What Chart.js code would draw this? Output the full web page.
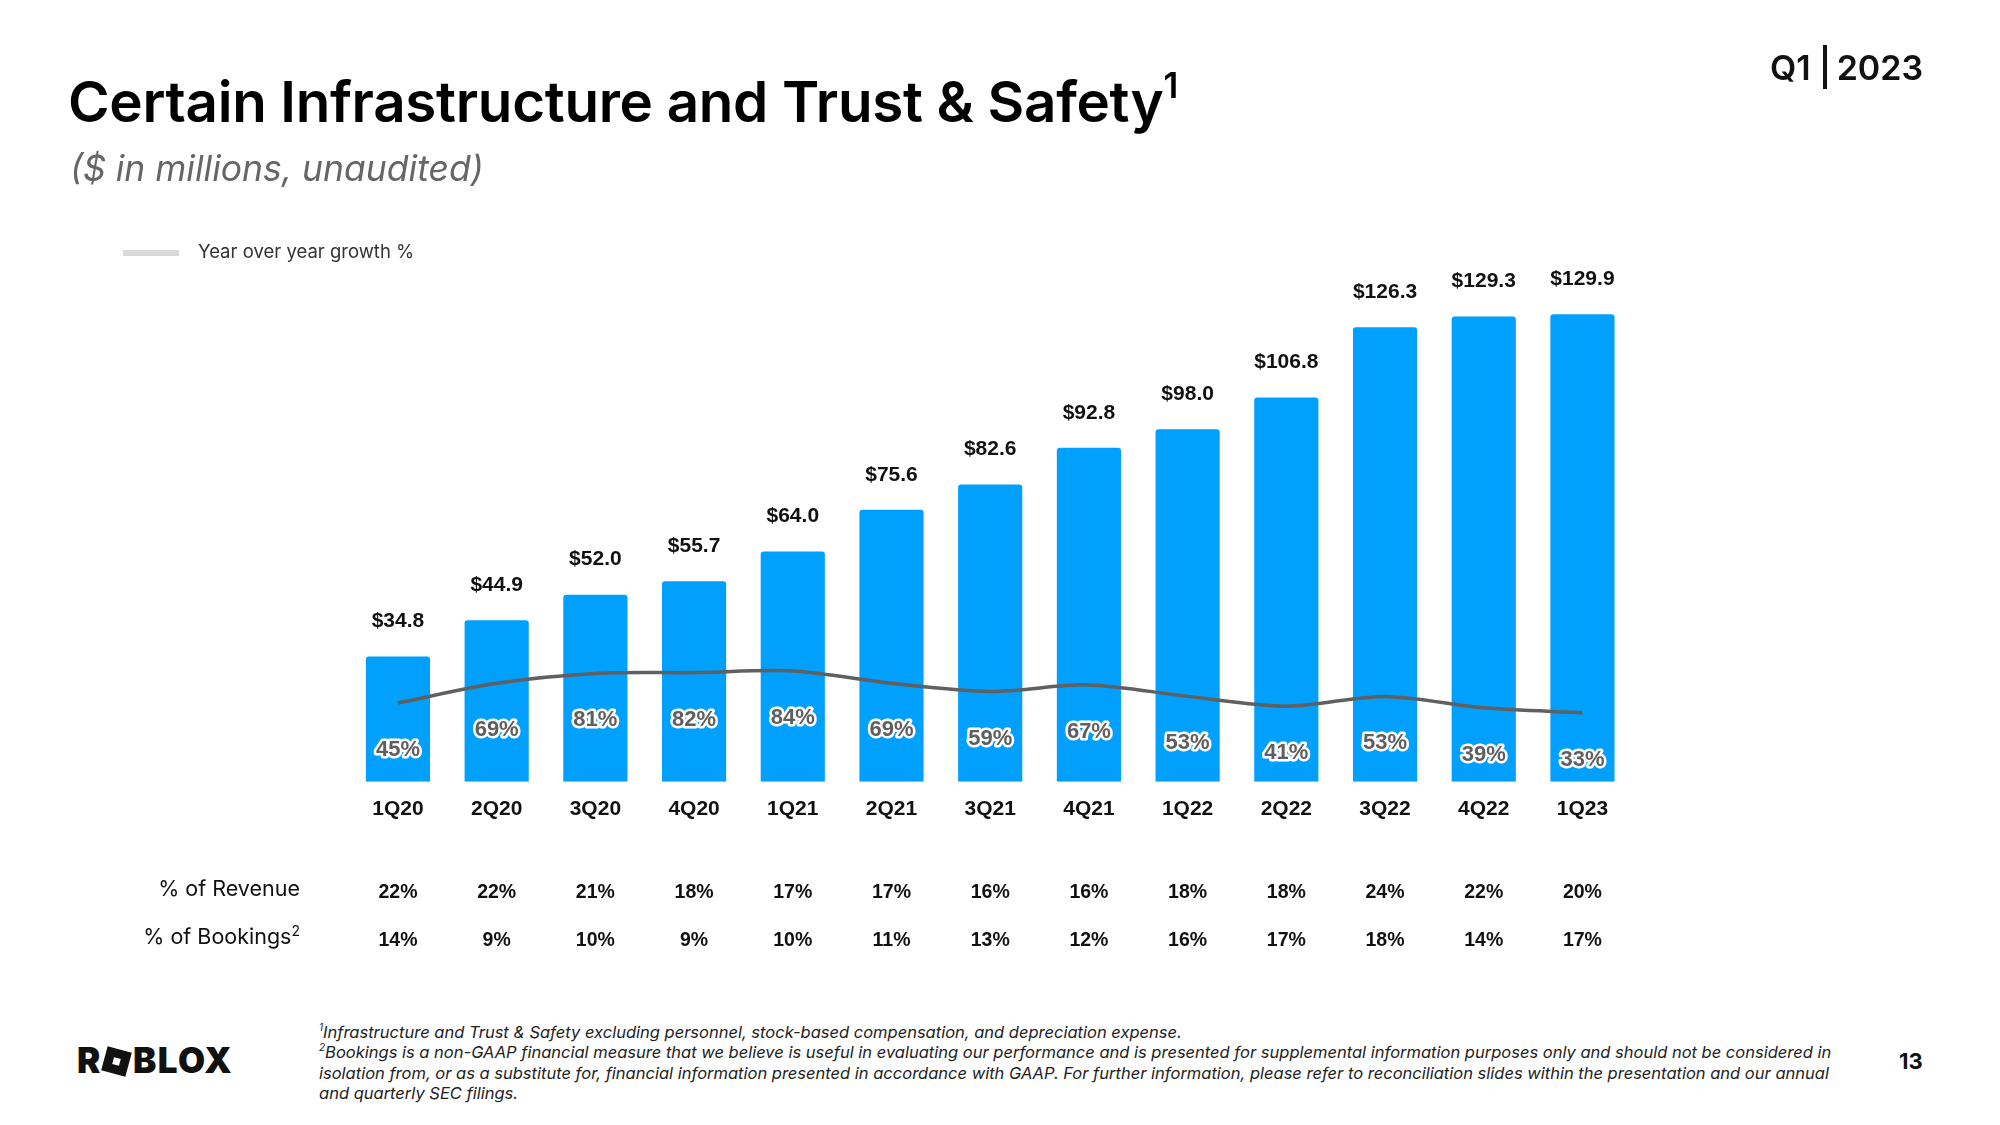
<!DOCTYPE html>
<html>
<head>
<meta charset="utf-8">
<script src="https://cdn.jsdelivr.net/npm/chart.js@4.4.1/dist/chart.umd.min.js"></script>
<style>
  html, body { margin: 0; padding: 0; background: #fff; }
  #page { position: relative; width: 2000px; height: 1125px; overflow: hidden; font-family: Inter, "Noto Sans", sans-serif; }
  #container { position: absolute; left: 0; top: 0; width: 2000px; height: 1000px; }
  .title { position: absolute; left: 68px; top: 67px; margin: 0; font-size: 56.5px; font-weight: 600; color: #000; letter-spacing: -0.3px; white-space: nowrap; }
  .title sup { font-size: 35px; position: relative; top: -4px; }
  .subtitle { position: absolute; left: 70px; top: 147px; font-size: 35.5px; font-style: italic; color: #666; white-space: nowrap; }
  .quarter { position: absolute; left: 1770px; top: 45px; font-size: 34px; font-weight: 600; color: #111; white-space: nowrap; }
  .quarter .sep { display: inline-block; width: 4px; height: 44px; background: #111; vertical-align: -9px; margin: 0 10px 0 12px; }
  .legend { position: absolute; left: 123px; top: 240px; height: 24px; white-space: nowrap; }
  .legend .swatch { position: absolute; left: 0; top: 10px; width: 56px; height: 6px; background: #d9d9d9; }
  .legend .text { position: absolute; left: 75px; top: 0; font-size: 18.5px; color: #333; }
  .rowlabel { position: absolute; right: 1700px; font-size: 21.5px; color: #111; white-space: nowrap; text-align: right; }
  .rowlabel sup { font-size: 14px; }
  .notes { position: absolute; left: 319px; top: 1022px; font-size: 16.5px; line-height: 20.4px; font-style: italic; color: #222; white-space: nowrap; }
  .notes sup { font-size: 10px; line-height: 0; vertical-align: baseline; position: relative; top: -7px; }
  .logo { position: absolute; left: 77px; top: 1039px; font-size: 35px; font-weight: 900; color: #111; letter-spacing: 1.5px; white-space: nowrap; }
  .logo .o { display: inline-block; width: 25px; height: 25px; background: #111; transform: rotate(15deg); position: relative; vertical-align: -1px; margin: 0 4px 0 2px; }
  .logo .o i { position: absolute; left: 9px; top: 9px; width: 7px; height: 7px; background: #fff; }
  .pagenum { position: absolute; left: 1899px; top: 1048px; font-size: 22px; font-weight: 700; color: #111; }
</style>
</head>
<body>
<div id="page">
  <div id="container"><canvas id="myChart"></canvas></div>
  <h1 class="title">Certain Infrastructure and Trust &amp; Safety<sup>1</sup></h1>
  <div class="subtitle">($ in millions, unaudited)</div>
  <div class="quarter">Q1<span class="sep"></span>2023</div>
  <div class="legend"><span class="swatch"></span><span class="text">Year over year growth %</span></div>
  <div class="rowlabel" style="top:875px">% of Revenue</div>
  <div class="rowlabel" style="top:922px">% of Bookings<sup>2</sup></div>
  <div class="logo">R<span class="o"><i></i></span>BLOX</div>
  <div class="notes">
    <sup>1</sup>Infrastructure and Trust &amp; Safety excluding personnel, stock-based compensation, and depreciation expense.<br>
    <sup>2</sup>Bookings is a non-GAAP financial measure that we believe is useful in evaluating our performance and is presented for supplemental information purposes only and should not be considered in<br>
    isolation from, or as a substitute for, financial information presented in accordance with GAAP. For further information, please refer to reconciliation slides within the presentation and our annual<br>
    and quarterly SEC filings.
  </div>
  <div class="pagenum">13</div>
</div>
<script>
// chart data
let quarters = ['1Q20','2Q20','3Q20','4Q20','1Q21','2Q21','3Q21','4Q21','1Q22','2Q22','3Q22','4Q22','1Q23'];
let costs = [34.8, 44.9, 52.0, 55.7, 64.0, 75.6, 82.6, 92.8, 98.0, 106.8, 126.3, 129.3, 129.9];
let growth = [45, 69, 81, 82, 84, 69, 59, 67, 53, 41, 53, 39, 33];
let revenuePct = [22, 22, 21, 18, 17, 17, 16, 16, 18, 18, 24, 22, 20];
let bookingsPct = [14, 9, 10, 9, 10, 11, 13, 12, 16, 17, 18, 14, 17];

let barColor = 'rgb(0,160,252)';
let lineColor = 'rgb(96,96,96)';
let labelFont = '"Liberation Sans", Arial, sans-serif';

// draws the $ labels, the growth % labels and the two rows under the axis
let labelPlugin = {
  id: 'labels',
  afterDatasetsDraw(chart) {
    let ctx = chart.ctx;
    let bars = chart.getDatasetMeta(1).data;
    let points = chart.getDatasetMeta(0).data;
    let x = chart.scales.x;
    ctx.save();
    ctx.textAlign = 'center';
    ctx.textBaseline = 'middle';

    ctx.font = 'bold 21px ' + labelFont;
    ctx.fillStyle = '#111';
    bars.forEach(function(bar, i) {
      ctx.fillText('$' + costs[i].toFixed(1), bar.x, bar.y - 35);
    });

    ctx.font = 'bold 22px ' + labelFont;
    ctx.lineJoin = 'round';
    ctx.lineWidth = 5;
    ctx.strokeStyle = '#fff';
    ctx.fillStyle = '#5f5f5f';
    points.forEach(function(pt, i) {
      let t = growth[i] + '%';
      ctx.strokeText(t, pt.x, pt.y + 47);
      ctx.fillText(t, pt.x, pt.y + 47);
    });

    ctx.font = 'bold 19.5px ' + labelFont;
    ctx.fillStyle = '#111';
    for (let i = 0; i < quarters.length; i++) {
      let px = x.getPixelForValue(i);
      ctx.fillText(revenuePct[i] + '%', px, 893);
      ctx.fillText(bookingsPct[i] + '%', px, 941);
    }
    ctx.restore();
  }
};

function createChart() {
  let ctx = document.getElementById('myChart').getContext('2d');
  return new Chart(ctx, {
    type: 'bar',
    data: {
      labels: quarters,
      datasets: [
        {
          type: 'line',
          label: 'Year over year growth %',
          data: growth,
          yAxisID: 'y2',
          borderColor: lineColor,
          borderWidth: 3.5,
          pointRadius: 0,
          tension: 0.3,
          fill: false,
          order: 0
        },
        {
          label: 'Infrastructure and Trust & Safety',
          data: costs,
          yAxisID: 'y',
          backgroundColor: barColor,
          borderRadius: { topLeft: 3, topRight: 3 },
          borderSkipped: 'bottom',
          categoryPercentage: 1,
          barPercentage: 0.65,
          order: 1
        }
      ]
    },
    options: {
      responsive: true,
      maintainAspectRatio: false,
      animation: false,
      layout: { padding: { left: 348.6, right: 368.2, top: 242, bottom: 163 } },
      plugins: { legend: { display: false }, tooltip: { enabled: false } },
      scales: {
        x: {
          offset: true,
          grid: { display: false, drawTicks: false },
          border: { display: false },
          ticks: { padding: 15, color: '#111', font: { family: labelFont, size: 21, weight: 'bold' } }
        },
        y: { display: false, min: 0, max: 150 },
        y2: { display: false, min: -51.2, max: 607.3 }
      }
    },
    plugins: [labelPlugin]
  });
}

createChart();
</script>
</body>
</html>
